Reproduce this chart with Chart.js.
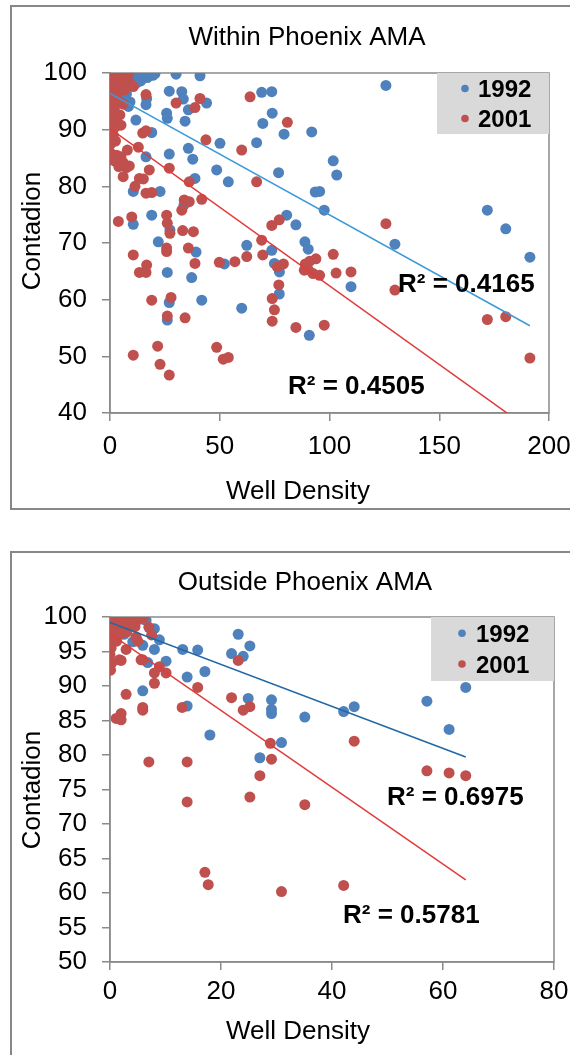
<!DOCTYPE html>
<html>
<head>
<meta charset="utf-8">
<script src="https://cdn.jsdelivr.net/npm/chart.js@4.4.1/dist/chart.umd.min.js"></script>
<style>
html, body { margin: 0; padding: 0; background: #fff; width: 570px; height: 1055px; overflow: hidden; }
body { position: relative; }
.frame { position: absolute; border: 2px solid #878787; box-sizing: border-box; }
canvas { position: absolute; left: 0; }
</style>
</head>
<body>
<div class="frame" style="left:10px;top:5px;width:620px;height:505px"></div>
<div class="frame" style="left:10px;top:551px;width:620px;height:540px"></div>
<canvas id="c1" width="616" height="520" style="top:0px"></canvas>
<canvas id="c2" width="616" height="510" style="top:545px"></canvas>
<script>
// ---------------- DATA ----------------
const seriesLabels = ['1992', '2001'];
const chartTitles = ['Within Phoenix AMA', 'Outside Phoenix AMA'];
const xAxisTitle = 'Well Density';
const yAxisTitle = 'Contadion';

// Within Phoenix AMA
const within1992X = [125.7,79.3,91.9,101.7,103.3,76.8,93.5,95.5,97.6,80.5,84.7,88.8,90.3,129.8,171.9,180.3,191.3,109.8,77.2,77.1,90.8,22.0,62.3,39.2,73.7,26.1,37.2,52.1,74.9,27.0,41.8,60.0,26.1,30.1,41.0,69.1,73.7,27.0,32.7,33.4,16.7,16.4,9.1,8.4,25.8,26.1,35.7,44.0,34.2,11.8,73.9,69.6,19.0,50.1,66.8,35.7,27.0,16.4,37.7,48.6,53.9,38.7,10.6,22.8,19.0,10.6,27.3,33.7,11,13,15,17,18.5,19.5,14,12,1,2,4,6,7.5,8,20.5];
const within1992Y = [97.8,89.2,89.6,84.5,82.0,82.4,79.0,79.1,75.8,74.9,73.2,70.2,68.9,69.8,75.8,72.5,67.5,62.3,64.9,61.0,53.7,70.2,69.6,68.4,68.7,64.8,63.9,66.3,66.4,59.5,59.9,58.5,56.4,99.8,99.5,96.6,96.7,96.8,96.7,95.4,95.5,94.4,94.9,94.1,92.9,92.0,93.5,94.7,91.5,91.7,92.9,91.1,89.5,87.6,87.7,86.7,85.7,85.2,84.8,82.9,80.8,81.4,79.1,79.1,74.9,73.3,72.3,76.7,99.5,100,99.8,99.2,100,99.6,98.6,98.2,95.3,94.2,96.0,95.2,96.3,97.5,99.9];

const within2001X = [80.8,77.1,73.7,125.7,101.7,93.8,89.0,91.0,90.3,92.5,95.5,88.5,103.0,109.8,129.8,171.9,180.3,191.3,84.7,97.6,76.9,10.6,25.8,35.7,13.4,16.4,16.7,38.7,49.8,56.9,62.3,69.6,69.1,76.2,79.0,73.9,74.9,73.9,19.0,27.8,26.1,34.2,10.6,21.7,22.8,27.0,48.6,51.6,53.9,63.8,41.0,30.1,38.7,16.4,43.7,60.0,66.8,14.9,16.4,7.9,12.9,27.0,17.9,13.4,15.2,11.4,36.1,16.4,19.0,33.8,36.1,41.8,32.7,25.8,26.1,9.9,3.8,27.3,33.1,38.0,25.8,2,4,6,7.5,5,3,8.8,6,0,0,0,0,0.5,0,0.3,0,1,1,2.5,4,5.5,7,8.5,1.5,3,4.5,6,7.5,9,2,3.5,5,6.5,1,3,10.6,4,2,3,2.5,1.5,2.5,5,4.5,6];
const within2001Y = [91.3,74.1,73.1,73.4,68.0,67.2,66.3,66.8,65.3,64.6,64.3,65.2,64.7,64.9,61.7,56.5,57.0,49.7,55.1,55.5,62.6,67.9,69.1,69.1,64.8,64.8,66.1,66.4,66.6,66.7,67.6,67.9,70.5,65.8,66.3,60.2,58.2,56.2,59.9,60.4,57.1,56.8,50.2,51.8,48.6,46.7,51.6,49.5,49.8,95.8,95.5,94.7,93.9,96.2,88.2,86.4,80.8,89.4,89.8,86.4,86.9,83.2,82.9,81.4,81.3,80.0,80.8,78.8,78.9,77.6,77.3,77.7,75.8,74.9,73.5,74.6,73.8,71.7,72.2,72.0,68.5,84.5,83.5,84.2,83.3,85.2,85.5,83.6,81.7,99,97,95,93,91.2,89.5,87.5,86,85,100,100,100,100,100,99.8,98.6,98.8,98.6,98.8,98.5,98.2,97.3,97.2,97.4,97,96,95.8,97.6,95,93.5,92,90.5,89,88,90.8,92.6,94.5];

// Trend lines (end points)
const withinTrend1992X = [0, 191.3];
const withinTrend1992Y = [96.4, 55.4];
const withinTrend2001X = [0, 191.3];
const withinTrend2001Y = [90.2, 37.1];
const withinR2 = ['R\u00B2 = 0.4165', 'R\u00B2 = 0.4505'];
const withinXTicks = [0, 50, 100, 150, 200];
const withinYTicks = [40, 50, 60, 70, 80, 90, 100];

// Outside Phoenix AMA
const outside1992X = [25.2,24.9,29.1,29.1,29.1,35.1,42.1,44.0,30.9,27.0,57.1,61.1,64.1,5.9,4.0,8.0,8.9,5.9,8.0,10.1,6.8,13.1,15.8,23.1,21.9,24.0,17.1,13.9,5.9,13.9,18.0,2.0,4.1,1.0,3.0,2.5,6.5];
const outside1992Y = [95.8,88.2,88.0,86.6,86.0,85.5,86.3,87.0,81.8,79.6,87.8,83.7,89.8,99.7,100,98.3,96.7,95.9,95.3,93.6,93.4,95.3,95.2,97.5,94.7,94.3,92.1,91.3,89.3,87.1,82.9,98.6,96.4,99.5,99.8,97.5,99.5];

const outside2001X = [25.2,28.9,29.1,27.0,25.2,44.0,35.1,57.1,61.1,64.1,30.9,42.1,2.0,2.9,5.9,8.0,8.9,10.1,8.0,15.8,23.1,2.9,5.9,5.9,13.0,21.9,24.0,2.0,1.1,2.0,7.0,13.9,13.9,17.1,17.7,0,1,2,3,4,5,6,0.5,1.5,2.5,3.5,4.5,0,1,2,3,0.3,1.2,0.2,0,0.3,0.1,1.7,5.6,7,7.5,5,4.7];
const outside2001Y = [87.0,81.7,79.4,77.0,73.9,82.0,72.8,77.7,77.4,77.0,60.2,61.1,93.7,95.3,93.8,91.9,92.8,91.9,90.4,89.8,93.7,88.8,86.9,86.5,86.9,88.3,86.5,86.0,85.3,85.1,79.0,79.0,73.2,63.0,61.2,100,100,100,100,99.8,99.6,99.9,99,99,98.8,99,98.6,98,97.8,97.6,97.8,96.8,96.5,95.5,94.5,93.3,92.3,93.8,93.8,98.5,97.4,96.5,97.1];

const outsideTrend1992X = [0, 64.1];
const outsideTrend1992Y = [99.2, 79.7];
const outsideTrend2001X = [0, 64.1];
const outsideTrend2001Y = [97.6, 61.9];
const outsideR2 = ['R\u00B2 = 0.6975', 'R\u00B2 = 0.5781'];
const outsideXTicks = [0, 20, 40, 60, 80];
const outsideYTicks = [50, 55, 60, 65, 70, 75, 80, 85, 90, 95, 100];

// ---------------- STYLE ----------------
const FONT = "'Liberation Sans', Arial, sans-serif";
const BLUE = '#4f81bd';
const RED = '#c0504d';
const AXIS = '#8a8a8a';

const toPts = (xs, ys) => xs.map((x, i) => ({ x: x, y: ys[i] }));

function capText(ctx, text, x, cy, size, weight, align, rotate) {
  ctx.save();
  ctx.font = (weight || 'normal') + ' ' + size + 'px ' + FONT;
  ctx.fillStyle = '#000';
  ctx.textAlign = align || 'left';
  ctx.textBaseline = 'alphabetic';
  ctx.translate(x, cy);
  if (rotate) ctx.rotate(rotate);
  ctx.fillText(text, 0, 0.358 * size);
  ctx.restore();
}

const overlay = {
  id: 'overlay',
  beforeDatasetsDraw(chart) {
    const a = chart.chartArea, ctx = chart.ctx;
    ctx.save();
    ctx.strokeStyle = AXIS;
    ctx.lineWidth = 1.5;
    ctx.strokeRect(a.left, a.top, a.right - a.left, a.bottom - a.top);
    ctx.restore();
  },
  afterDraw(chart) {
    const o = chart.options.plugins.overlay;
    const ctx = chart.ctx;
    // chart title
    capText(ctx, o.title, o.titlePos[0], o.titlePos[1], 26, 'normal', 'center');
    // legend
    const lg = o.legend;
    ctx.save();
    ctx.fillStyle = '#d9d9d9';
    ctx.fillRect(lg.x, lg.y, lg.w, lg.h);
    lg.rows.forEach((ry, i) => {
      const ds = chart.data.datasets[lg.datasets[i]];
      ctx.beginPath();
      ctx.fillStyle = ds.backgroundColor;
      ctx.arc(lg.markerX, ry, 3.8, 0, Math.PI * 2);
      ctx.fill();
      capText(ctx, ds.label, lg.textX, ry, 24, 'bold', 'left');
    });
    ctx.restore();
    // R² labels
    o.r2.forEach(r => capText(ctx, r.text, r.x, r.y, 26, 'bold', 'left'));
    // axis titles
    capText(ctx, xAxisTitle, o.xTitle[0], o.xTitle[1], 26, 'normal', 'center');
    capText(ctx, yAxisTitle, o.yTitle[0], o.yTitle[1], 26, 'normal', 'center', -Math.PI / 2);
  }
};

function makeChart(id, cfg) {
  const datasets = [
    { label: 'trend1992', data: toPts(cfg.t92x, cfg.t92y), showLine: true, borderColor: cfg.trendBlue, borderWidth: 1.5, pointRadius: 0, fill: false },
    { label: 'trend2001', data: toPts(cfg.t01x, cfg.t01y), showLine: true, borderColor: '#e03c3c', borderWidth: 1.5, pointRadius: 0, fill: false },
    { label: seriesLabels[1], data: toPts(cfg.x01, cfg.y01), backgroundColor: RED, pointBackgroundColor: RED, pointBorderWidth: 0, pointRadius: 5.5 },
    { label: seriesLabels[0], data: toPts(cfg.x92, cfg.y92), backgroundColor: BLUE, pointBackgroundColor: BLUE, pointBorderWidth: 0, pointRadius: 5.5 }
  ];
  return new Chart(document.getElementById(id), {
    type: 'scatter',
    data: { datasets: datasets },
    options: {
      responsive: false,
      animation: false,
      devicePixelRatio: 1,
      events: [],
      layout: { padding: { left: 0, right: cfg.padRight, top: cfg.padTop, bottom: 0 } },
      plugins: {
        legend: { display: false },
        tooltip: { enabled: false },
        title: { display: false },
        overlay: cfg.overlay
      },
      scales: {
        x: {
          type: 'linear', min: cfg.xTicks[0], max: cfg.xTicks[cfg.xTicks.length - 1],
          afterBuildTicks: s => { s.ticks = cfg.xTicks.map(v => ({ value: v })); },
          ticks: { color: '#000', font: { family: FONT, size: 26 }, padding: cfg.xTickPad, maxRotation: 0, autoSkip: false },
          grid: { drawOnChartArea: false, drawTicks: true, tickLength: 8, color: AXIS, lineWidth: 1.5 },
          border: { display: true, color: AXIS, width: 1.5 },
          afterFit: s => { s.height = cfg.xHeight; }
        },
        y: {
          type: 'linear', min: cfg.yTicks[0], max: cfg.yTicks[cfg.yTicks.length - 1],
          afterBuildTicks: s => { s.ticks = cfg.yTicks.map(v => ({ value: v })); },
          ticks: { color: '#000', font: { family: FONT, size: 26 }, padding: 15, autoSkip: false },
          grid: { drawOnChartArea: false, drawTicks: true, tickLength: 8, color: AXIS, lineWidth: 1.5 },
          border: { display: true, color: AXIS, width: 1.5 },
          afterFit: s => { s.width = 110; }
        }
      }
    },
    plugins: [overlay]
  });
}

makeChart('c1', {
  x92: within1992X, y92: within1992Y, x01: within2001X, y01: within2001Y,
  t92x: withinTrend1992X, t92y: withinTrend1992Y, t01x: withinTrend2001X, t01y: withinTrend2001Y,
  trendBlue: '#3d9ad8',
  xTicks: withinXTicks, yTicks: withinYTicks,
  padRight: 67, padTop: 73, xHeight: 107, xTickPad: 10,
  overlay: {
    title: chartTitles[0],
    titlePos: [307, 35.5],
    legend: { x: 437, y: 73, w: 112, h: 61, markerX: 465, textX: 478, rows: [88.5, 118.5], datasets: [3, 2] },
    r2: [ { text: withinR2[0], x: 398, y: 282.5 }, { text: withinR2[1], x: 288, y: 385 } ],
    xTitle: [298, 490],
    yTitle: [31, 231]
  }
});

makeChart('c2', {
  x92: outside1992X, y92: outside1992Y, x01: outside2001X, y01: outside2001Y,
  t92x: outsideTrend1992X, t92y: outsideTrend1992Y, t01x: outsideTrend2001X, t01y: outsideTrend2001Y,
  trendBlue: '#1f67a6',
  xTicks: outsideXTicks, yTicks: outsideYTicks,
  padRight: 62, padTop: 72, xHeight: 93, xTickPad: 6,
  overlay: {
    title: chartTitles[1],
    titlePos: [305, 36],
    legend: { x: 431, y: 72, w: 123, h: 64, markerX: 462, textX: 476, rows: [88.3, 119], datasets: [3, 2] },
    r2: [ { text: outsideR2[0], x: 387, y: 250.3 }, { text: outsideR2[1], x: 343, y: 369 } ],
    xTitle: [298, 485],
    yTitle: [31, 245]
  }
});
</script>
</body>
</html>
